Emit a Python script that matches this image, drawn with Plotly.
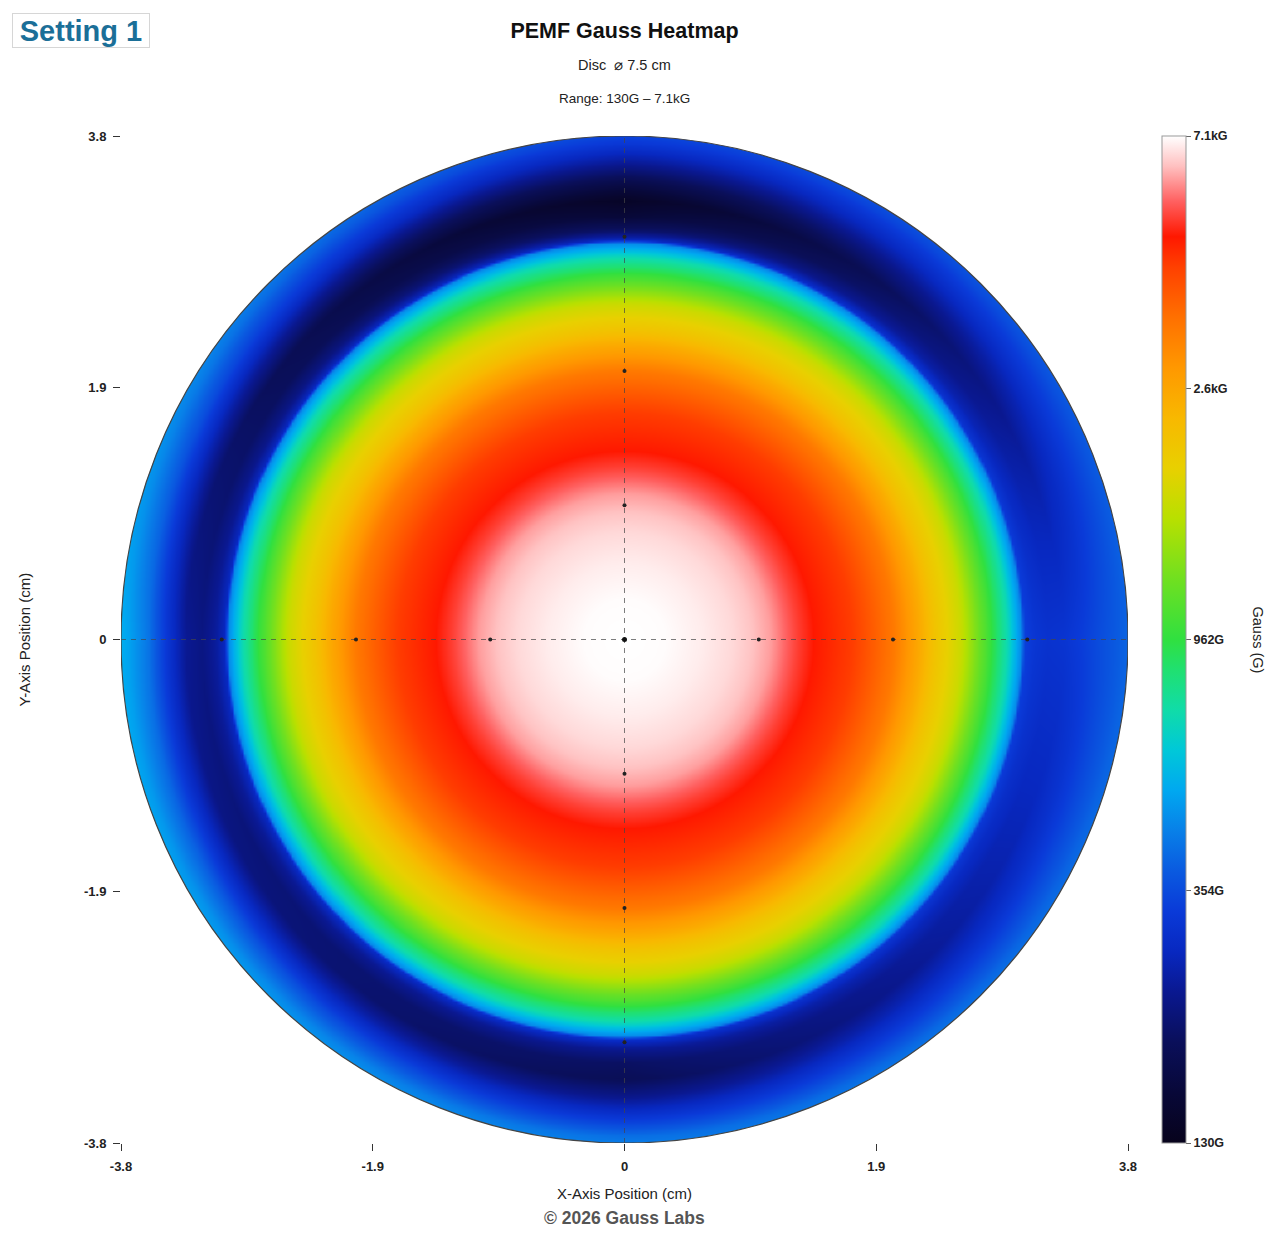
import numpy as np
import plotly.graph_objects as go

# ---------------- data ----------------
# radial field profile, common to all directions inside the ring (cm, Gauss)
radius_cm = [0.0, 0.3, 0.57, 0.8, 0.94, 1.08, 1.16, 1.28, 1.41, 1.7, 2.0,
             2.2, 2.3, 2.5, 2.7, 2.85, 2.92, 2.955]
inner_gauss = [7100, 7060, 6850, 6600, 6350, 6000, 5650, 5150, 4750, 4250, 3320,
               2510, 2140, 1680, 1040, 700, 527, 460]

# outer band (beyond the sharp ring edge), per direction
outer_radius_cm = [2.975, 3.05, 3.15, 3.27, 3.4, 3.55, 3.7, 3.75]
outer_right = [335, 315, 305, 310, 330, 360, 390, 400]
outer_top = [280, 200, 160, 140, 175, 240, 320, 340]
outer_left = [280, 245, 225, 240, 310, 430, 520, 540]
outer_bottom = [295, 235, 200, 190, 230, 310, 420, 440]

disc_radius = 3.75
axis_ticks = [-3.75, -1.875, 0, 1.875, 3.75]
axis_ticktext = ["-3.8", "-1.9", "0", "1.9", "3.8"]
marker_positions = [-3, -2, -1, 1, 2, 3]

cbar_tick_gauss = [130, 354, 962, 2600, 7100]
cbar_tick_text = ["130G", "354G", "962G", "2.6kG", "7.1kG"]
g_min, g_max = 130, 7100

colorscale = [
    [0.00, "#07031c"], [0.05, "#080838"], [0.10, "#0a0f5a"], [0.15, "#0a1890"],
    [0.19, "#0828c0"], [0.23, "#0a3ad8"], [0.27, "#0a5ae0"], [0.31, "#0880e8"],
    [0.35, "#00a8f0"], [0.39, "#00c8d8"], [0.43, "#10dca8"], [0.47, "#20e070"],
    [0.50, "#30e040"], [0.56, "#70e020"], [0.62, "#b8e000"], [0.67, "#e8d000"],
    [0.72, "#f8b800"], [0.77, "#ff9800"], [0.82, "#ff7000"], [0.87, "#ff4000"],
    [0.90, "#ff1800"], [0.935, "#ff6060"], [0.97, "#ffc0c0"], [1.00, "#ffffff"],
]

# ---------------- build the field grid ----------------
N = 401
xs = np.linspace(-disc_radius, disc_radius, N)
X, Y = np.meshgrid(xs, xs)
R = np.hypot(X, Y)
TH = np.degrees(np.arctan2(Y, X)) % 360

r_all = np.array(radius_cm + outer_radius_cm)
profiles = [inner_gauss + outer_right, inner_gauss + outer_top,
            inner_gauss + outer_left, inner_gauss + outer_bottom]
stack = np.stack([np.interp(R, r_all, np.log(np.array(p, float))) for p in profiles])
a = TH / 90.0
i0 = np.floor(a).astype(int) % 4
i1 = (i0 + 1) % 4
w = a - np.floor(a)
Z0 = np.take_along_axis(stack, i0[None], 0)[0]
Z1 = np.take_along_axis(stack, i1[None], 0)[0]
Z = (1 - w) * Z0 + w * Z1
Z = np.round(Z, 4)

FONT = "Liberation Sans, Arial, Helvetica, sans-serif"

fig = go.Figure()
fig.add_trace(go.Heatmap(
    x=xs, y=xs, z=Z, zsmooth="best",
    zmin=np.log(g_min), zmax=np.log(g_max),
    colorscale=colorscale, hoverinfo="skip",
    colorbar=dict(
        x=(1162 - 121) / 1007, xanchor="left", xpad=0, ypad=0,
        y=0.5, yanchor="middle", len=1.0, lenmode="fraction",
        thickness=24, outlinewidth=1, outlinecolor="#999999",
        tickvals=list(np.log(cbar_tick_gauss)), ticktext=cbar_tick_text,
        ticks="outside", ticklen=5, tickcolor="#666666",
        tickfont=dict(family=FONT, size=12.5, color="#222222", weight="bold"),
    ),
))

# crosshair
dash_line = dict(color="rgba(70,70,70,0.7)", width=1, dash="5px,5px")
fig.add_trace(go.Scatter(x=[-disc_radius, disc_radius], y=[0, 0], mode="lines",
                         line=dash_line, hoverinfo="skip", showlegend=False))
fig.add_trace(go.Scatter(x=[0, 0], y=[-disc_radius, disc_radius], mode="lines",
                         line=dash_line, hoverinfo="skip", showlegend=False))
# measurement dots
fig.add_trace(go.Scatter(
    x=marker_positions + [0] * len(marker_positions),
    y=[0] * len(marker_positions) + marker_positions,
    mode="markers", marker=dict(size=4, color="#222222"),
    hoverinfo="skip", showlegend=False))
fig.add_trace(go.Scatter(x=[0], y=[0], mode="markers",
                         marker=dict(size=5, color="#111111"),
                         hoverinfo="skip", showlegend=False))

# white mask outside the disc + disc outline
t = np.linspace(0, 2 * np.pi, 721)
big = disc_radius + 0.2
path = f"M {-big} {-big} L {big} {-big} L {big} {big} L {-big} {big} Z "
path += "M " + " L ".join(f"{disc_radius*np.cos(v):.5f} {disc_radius*np.sin(v):.5f}" for v in t) + " Z"
fig.add_shape(type="path", path=path, fillcolor="white", line=dict(width=0),
              fillrule="evenodd", layer="above")
fig.add_shape(type="circle", x0=-disc_radius, y0=-disc_radius, x1=disc_radius, y1=disc_radius,
              line=dict(color="#444444", width=1.2), layer="above")

axis_common = dict(
    range=[-disc_radius, disc_radius], tickvals=axis_ticks, ticktext=axis_ticktext,
    ticks="outside", ticklen=7, tickcolor="#333333", tickwidth=1,
    showgrid=False, zeroline=False, showline=False, ticklabelstandoff=4,
    tickfont=dict(family=FONT, size=13, color="#222222", weight="bold"),
)
fig.update_xaxes(**axis_common)
fig.update_yaxes(**axis_common, scaleanchor="x", scaleratio=1)

fig.update_layout(
    width=1280, height=1245,
    margin=dict(l=121, r=152, t=136, b=102),
    paper_bgcolor="white", plot_bgcolor="white",
    font=dict(family=FONT, color="#222222"),
    showlegend=False,
    title=dict(text="<b>PEMF Gauss Heatmap</b>", x=0.5, xref="paper", xanchor="center",
               y=1 - 30 / 1245, yref="container", yanchor="middle",
               font=dict(family=FONT, size=21.5, color="#111111")),
)

annotations = [
    dict(text="Disc  \u2300 7.5 cm", x=0.5, y=1 + (136 - 65) / 1007, font=dict(size=14.5)),
    dict(text="Range: 130G \u2013 7.1kG", x=0.5, y=1 + (136 - 98) / 1007, font=dict(size=13.5)),
    dict(text="X-Axis Position (cm)", x=0.5, y=-(1193 - 1143) / 1007, font=dict(size=15)),
    dict(text="<b>\u00a9 2026 Gauss Labs</b>", x=0.5, y=-(1218 - 1143) / 1007,
         font=dict(size=17.5, color="#555555")),
    dict(text="Y-Axis Position (cm)", x=(24 - 121) / 1007, y=0.5, textangle=-90,
         font=dict(size=15)),
    dict(text="Gauss (G)", x=(1258 - 121) / 1007, y=0.5, textangle=90, font=dict(size=14.5)),
]
for an in annotations:
    f = dict(family=FONT, color="#222222")
    f.update(an["font"])
    fig.add_annotation(xref="paper", yref="paper", showarrow=False,
                       xanchor="center", yanchor="middle",
                       text=an["text"], x=an["x"], y=an["y"],
                       textangle=an.get("textangle", 0), font=f)

fig.add_annotation(xref="paper", yref="paper", showarrow=False,
                   x=(12 - 121) / 1007, y=1 + (136 - 13) / 1007, xanchor="left", yanchor="top",
                   text="<b>Setting 1</b>", font=dict(family=FONT, size=29, color="#1b6f98"),
                   bordercolor="#d6d6d6", borderwidth=1, borderpad=0, bgcolor="white",
                   width=136, height=33)

fig.write_html("out.html")
